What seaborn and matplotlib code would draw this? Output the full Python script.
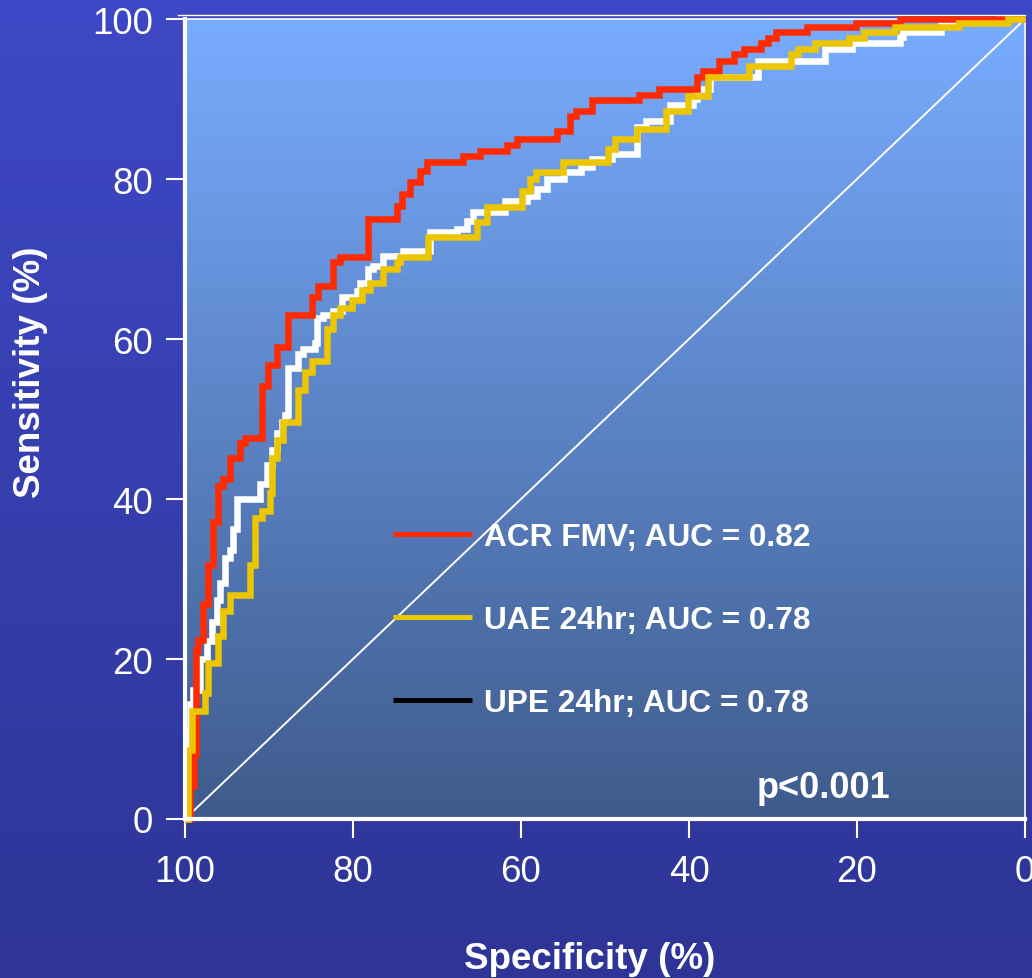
import numpy as np
import pandas as pd
import matplotlib
matplotlib.use("Agg")
import matplotlib.pyplot as plt
import seaborn as sns

# ---------------- data ----------------
acr_spec = [100, 99.4, 98.9, 98.7, 98.5, 97.9, 97.3, 96.7, 96.1, 95.5, 94.6, 93.5, 92.9,
            90.8, 90.1, 89.0, 87.7, 84.9, 84.2, 82.4, 81.5, 78.2, 74.8, 74.2, 73.2, 72.0,
            71.2, 66.9, 64.9, 61.7, 60.5, 55.7, 54.2, 53.5, 51.5, 46.0, 43.6, 39.0, 38.3,
            36.4, 34.6, 33.5, 31.4, 30.6, 29.6, 26.0, 20.1, 14.9, 0]
acr_sens = [0, 4.1, 8.1, 21.1, 22.4, 26.9, 31.8, 37.1, 41.6, 42.5, 45.1, 47.0, 47.6,
            54.1, 56.8, 59.0, 63.0, 65.3, 66.6, 69.6, 70.3, 75.0, 76.6, 78.1, 79.6, 81.0,
            82.1, 82.9, 83.5, 84.3, 85.0, 86.0, 87.9, 88.5, 89.9, 90.5, 91.3, 92.8, 93.5,
            94.8, 95.6, 96.3, 97.0, 97.6, 98.4, 99.0, 99.5, 100, 100]

uae_spec = [100, 99.6, 99.2, 97.6, 97.3, 96.1, 95.5, 94.6, 92.3, 91.7, 90.8, 89.9, 89.6,
            89.0, 88.3, 86.5, 85.7, 84.9, 83.1, 82.4, 81.5, 80.1, 78.9, 78.0, 76.4, 74.8,
            74.4, 71.1, 65.2, 64.0, 59.9, 58.9, 58.2, 55.0, 49.6, 48.8, 46.2, 42.7, 40.1,
            37.7, 32.9, 27.9, 27.0, 25.0, 21.0, 19.2, 15.5, 7.9, 2.0, 0]
uae_sens = [0, 8.6, 13.5, 15.8, 19.5, 22.9, 26.0, 28.0, 31.8, 37.6, 38.5, 40.8, 45.1,
            47.4, 49.6, 53.6, 55.9, 57.3, 61.3, 63.0, 63.9, 64.9, 66.1, 67.0, 68.8, 69.6,
            70.3, 72.8, 74.6, 76.5, 78.5, 80.0, 80.9, 82.1, 83.8, 85.0, 86.3, 88.5, 90.4,
            92.8, 94.1, 95.6, 96.3, 97.0, 97.6, 98.4, 99.0, 99.5, 100, 100]

upe_spec = [100, 99.8, 99.4, 99.0, 98.2, 97.4, 96.8, 96.2, 95.8, 95.2, 94.6, 94.3, 93.8,
            91.1, 90.2, 89.6, 89.0, 88.5, 88.1, 87.7, 86.5, 86.0, 84.5, 84.3, 83.6, 82.4,
            81.3, 79.5, 79.2, 78.2, 77.6, 76.4, 74.0, 70.8, 67.6, 66.4, 65.7, 61.9, 59.3,
            58.1, 56.9, 54.9, 52.9, 51.5, 49.2, 46.2, 45.1, 42.3, 39.5, 39.0, 37.5, 31.8,
            23.8, 20.6, 14.9, 14.5, 10.0, 3.0, 0]
upe_sens = [0, 11.0, 14.4, 16.1, 20.0, 22.3, 24.6, 27.4, 29.5, 32.6, 33.6, 36.3, 40.0,
            41.9, 44.3, 46.1, 48.3, 49.6, 50.5, 56.4, 58.1, 58.8, 59.5, 62.6, 63.0, 63.5,
            65.3, 66.0, 67.0, 68.8, 69.1, 70.4, 71.0, 73.4, 73.8, 74.8, 75.9, 77.3, 77.9,
            78.8, 80.0, 80.9, 81.5, 82.5, 83.1, 86.5, 87.3, 89.3, 90.0, 91.3, 92.8, 94.8,
            96.3, 97.0, 97.8, 98.4, 99.6, 100, 100]

chance_spec = [100, 0]
chance_sens = [0, 100]

labels = ["ACR FMV; AUC = 0.82", "UAE 24hr; AUC = 0.78", "UPE 24hr; AUC = 0.78"]
ticks = [0, 20, 40, 60, 80, 100]
annotation = "p<0.001"

# ---------------- style ----------------
plt.rcParams['font.family'] = ['Liberation Sans', 'DejaVu Sans']

W, H = 1032, 979
fig = plt.figure(figsize=(W / 100, H / 100), dpi=100)

# figure background gradient
bg = fig.add_axes([0, 0, 1, 1], zorder=-10)
top_c = np.array([62, 72, 198]) / 255
bot_c = np.array([46, 53, 150]) / 255
t = np.linspace(0, 1, 256)[:, None]
grad = (bot_c[None, :] * (1 - t) + top_c[None, :] * t)[:, None, :]
bg.imshow(grad, aspect='auto', extent=[0, 1, 0, 1], origin='lower')
bg.axis('off')

left, right = 185 / W, 1025 / W
bottom, top = (H - 820) / H, (H - 20) / H
ax = fig.add_axes([left, bottom, right - left, top - bottom])
ax.patch.set_alpha(0)

# axes background gradient
a_top = np.array([120, 172, 255]) / 255
a_bot = np.array([63, 91, 140]) / 255
agrad = (a_bot[None, :] * (1 - t) + a_top[None, :] * t)[:, None, :]
ax.imshow(agrad, aspect='auto', extent=[100, 0, 0, 100], origin='lower', zorder=0)

# diagonal chance line
sns.lineplot(x=chance_spec, y=chance_sens, ax=ax, color='white', lw=1.4,
             sort=False, estimator=None, zorder=1)

lw = 4.7
common = dict(ax=ax, sort=False, estimator=None, drawstyle='steps-post',
              solid_joinstyle='miter', solid_capstyle='butt', clip_on=False)
sns.lineplot(x=upe_spec, y=upe_sens, color='white', lw=lw, zorder=3, **common)
sns.lineplot(x=acr_spec, y=acr_sens, color='#ff2a00', lw=lw, zorder=4, **common)
sns.lineplot(x=uae_spec, y=uae_sens, color='#ecc600', lw=lw, zorder=5, **common)

lines = ax.get_lines()
line_upe, line_acr, line_uae = lines[1], lines[2], lines[3]

ax.set_xlim(100, 0)
ax.set_ylim(0, 100)
ax.set_xticks(ticks)
ax.set_yticks(ticks)
ax.set_xticklabels([str(v) for v in ticks])
ax.set_yticklabels([str(v) for v in ticks])

ax.tick_params(axis='both', direction='out', length=14, width=1.5, color='white',
               labelcolor='white', labelsize=26.5)
ax.tick_params(axis='x', pad=11)
ax.tick_params(axis='y', pad=9)

for s in ['left', 'bottom']:
    ax.spines[s].set_color('white')
    ax.spines[s].set_linewidth(3)
    ax.spines[s].set_zorder(6)
for s in ['top', 'right']:
    ax.spines[s].set_color('white')
    ax.spines[s].set_linewidth(1.2)
ax.axhline(100.5, xmin=-0.008, xmax=1.0, color='white', lw=1.0, clip_on=False, zorder=1)

ax.set_xlabel("Specificity (%)", fontsize=26.5, fontweight='bold', color='white')
ax.set_ylabel("Sensitivity (%)", fontsize=26.5, fontweight='bold', color='white')
ax.xaxis.set_label_coords(0.482, -0.152)
ax.yaxis.set_label_coords(-0.163, 0.56)

leg = ax.legend([line_acr, line_uae, line_upe], labels, loc='center left',
                bbox_to_anchor=(0.2476, 0.249), frameon=False,
                prop={'size': 22.8, 'weight': 'bold'}, labelcolor='white',
                handlelength=2.5, handletextpad=0.38, labelspacing=1.68,
                borderpad=0, borderaxespad=0)
for h, c in zip(leg.legend_handles, ['#ff2a00', '#ecc600', 'black']):
    h.set_color(c)
    h.set_linewidth(3.6)
    h.set_drawstyle('default')

ax.text(31.9, 2.8, annotation, fontsize=26, fontweight='bold', color='white',
        ha='left', va='baseline')

fig.savefig("out.png", dpi=100)
